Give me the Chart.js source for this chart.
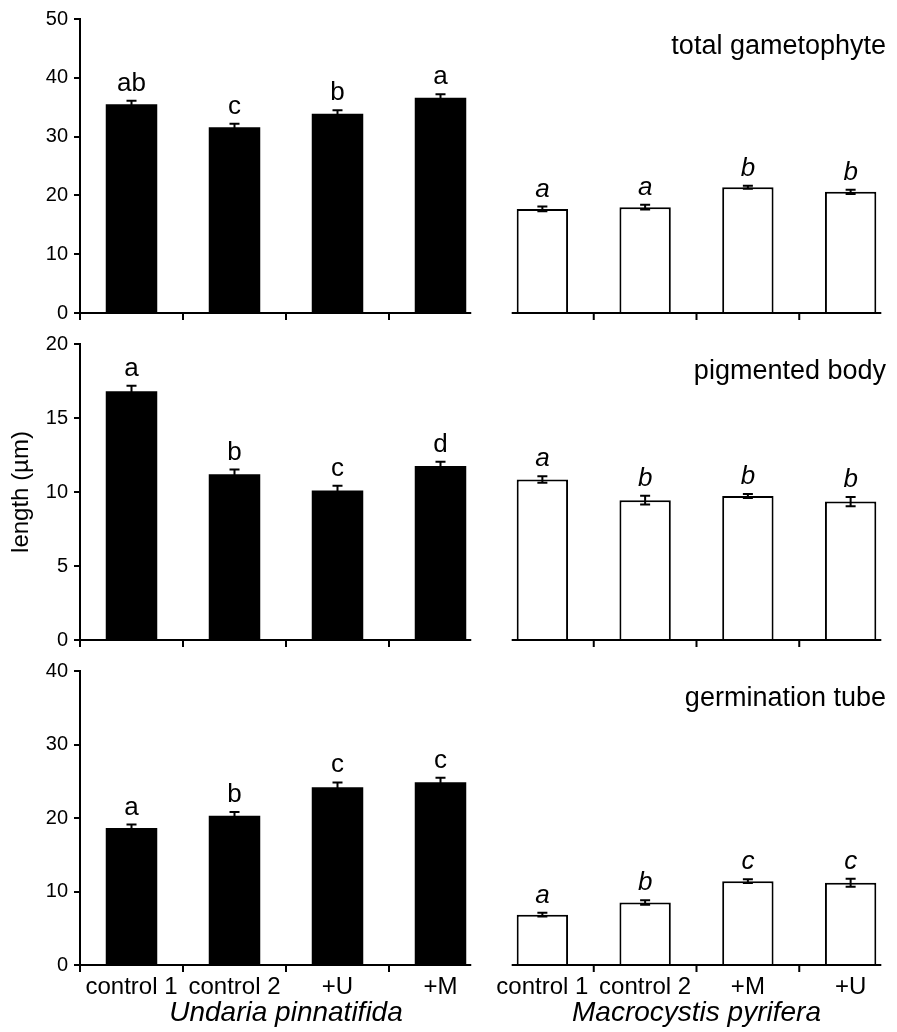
<!DOCTYPE html>
<html>
<head>
<meta charset="utf-8">
<script src="https://cdn.jsdelivr.net/npm/chart.js@4.4.1/dist/chart.umd.min.js"></script>
<style>
  html, body { margin: 0; padding: 0; background: #fff; overflow: hidden; }
  body { width: 897px; height: 1032px; position: relative; }
  canvas { position: absolute; }
</style>
</head>
<body>
<canvas id="totalU"></canvas>
<canvas id="totalM"></canvas>
<canvas id="pigU"></canvas>
<canvas id="pigM"></canvas>
<canvas id="germU"></canvas>
<canvas id="germM"></canvas>
<script>
  // categories
  const undariaLabels = ['control 1', 'control 2', '+U', '+M'];
  const macroLabels = ['control 1', 'control 2', '+M', '+U'];

  // total gametophyte
  const totalUndaria = [35.5, 31.6, 33.9, 36.6];
  const totalUndariaErr = [0.6, 0.6, 0.6, 0.6];
  const totalUndariaLetters = ['ab', 'c', 'b', 'a'];
  const totalMacro = [17.7, 18.0, 21.4, 20.6];
  const totalMacroErr = [0.4, 0.4, 0.25, 0.35];
  const totalMacroLetters = ['a', 'a', 'b', 'b'];

  // pigmented body
  const pigUndaria = [16.8, 11.2, 10.1, 11.75];
  const pigUndariaErr = [0.38, 0.32, 0.32, 0.3];
  const pigUndariaLetters = ['a', 'b', 'c', 'd'];
  const pigMacro = [10.85, 9.45, 9.73, 9.35];
  const pigMacroErr = [0.22, 0.29, 0.14, 0.31];
  const pigMacroLetters = ['a', 'b', 'b', 'b'];

  // germination tube
  const germUndaria = [18.65, 20.3, 24.2, 24.85];
  const germUndariaErr = [0.46, 0.5, 0.64, 0.64];
  const germUndariaLetters = ['a', 'b', 'c', 'c'];
  const germMacro = [6.85, 8.5, 11.4, 11.2];
  const germMacroErr = [0.25, 0.3, 0.25, 0.54];
  const germMacroLetters = ['a', 'b', 'c', 'c'];

  const FAMILY = '"Liberation Sans", Arial, Helvetica, sans-serif';
  Chart.defaults.font.family = FAMILY;
  Chart.defaults.color = '#000';

  // axis line, ticks between categories, error bars, letters and panel title
  const panelPlugin = {
    id: 'panel',
    afterDatasetsDraw(chart, args, o) {
      const { ctx, chartArea } = chart;
      const yScale = chart.scales.y;
      const bars = chart.getDatasetMeta(0).data;
      const y = chartArea.bottom;
      const first = bars[0], last = bars[bars.length - 1];
      const x0 = o.left ? chartArea.left - 1 : first.x - first.width / 2 - 5;
      const x1 = last.x + last.width / 2 + 5;

      ctx.save();
      ctx.strokeStyle = '#000';
      ctx.lineWidth = 2;
      ctx.beginPath();
      ctx.moveTo(x0, y);
      ctx.lineTo(x1, y);
      for (let i = 1; i < bars.length; i++) {
        const bx = (bars[i - 1].x + bars[i].x) / 2;
        ctx.moveTo(bx, y);
        ctx.lineTo(bx, y + 7);
      }
      if (o.left) {
        ctx.moveTo(chartArea.left, y);
        ctx.lineTo(chartArea.left, y + 7);
      }
      ctx.stroke();

      // error bars
      const values = chart.data.datasets[0].data;
      bars.forEach((bar, i) => {
        const top = yScale.getPixelForValue(values[i] + o.errors[i]);
        const bot = yScale.getPixelForValue(values[i] - o.errors[i]);
        ctx.beginPath();
        ctx.moveTo(bar.x, top);
        ctx.lineTo(bar.x, bot);
        ctx.moveTo(bar.x - 5, top);
        ctx.lineTo(bar.x + 5, top);
        ctx.moveTo(bar.x - 5, bot);
        ctx.lineTo(bar.x + 5, bot);
        ctx.stroke();

        ctx.fillStyle = '#000';
        ctx.font = (o.italic ? 'italic ' : '') + '26px ' + FAMILY;
        ctx.textAlign = 'center';
        ctx.textBaseline = 'alphabetic';
        ctx.fillText(o.letters[i], bar.x, top - 10);
      });

      if (o.title) {
        ctx.font = '27px ' + FAMILY;
        ctx.textAlign = 'right';
        ctx.textBaseline = 'alphabetic';
        ctx.fillText(o.title, chartArea.right - 16, chartArea.top + 35);
      }
      ctx.restore();
    }
  };

  const rows = [
    { top: 0, height: 325, padTop: 19, xHeight: 12, yMax: 50, yStep: 10 },
    { top: 325, height: 325, padTop: 19, xHeight: 10, yMax: 20, yStep: 5 },
    { top: 650, height: 382, padTop: 21, xHeight: 67, yMax: 40, yStep: 10 }
  ];

  function makePanel(id, row, left, labels, values, errors, letters, extra) {
    const r = rows[row];
    const bottomRow = row === 2;
    const canvas = document.getElementById(id);
    const width = left ? 500 : 411;
    canvas.width = width;
    canvas.height = r.height;
    canvas.style.left = (left ? 0 : 491) + 'px';
    canvas.style.top = r.top + 'px';

    new Chart(canvas.getContext('2d'), {
      type: 'bar',
      data: {
        labels: labels,
        datasets: [{
          data: values,
          backgroundColor: left ? '#000' : '#fff',
          borderColor: '#000',
          borderWidth: left ? 0 : 2,
          barPercentage: 0.5,
          categoryPercentage: 1.0
        }]
      },
      options: {
        responsive: false,
        animation: false,
        layout: { padding: { top: r.padTop, right: left ? 8 : 0, bottom: 0, left: 0 } },
        plugins: {
          legend: { display: false },
          tooltip: { enabled: false },
          panel: {
            left: left,
            italic: !left,
            errors: errors,
            letters: letters,
            title: extra.title
          }
        },
        scales: {
          x: {
            grid: { display: false, drawTicks: false },
            border: { display: false },
            ticks: {
              display: bottomRow,
              autoSkip: false,
              maxRotation: 0,
              padding: 8,
              font: { size: 24 }
            },
            title: {
              display: bottomRow,
              text: extra.species,
              font: { size: 28, style: 'italic' },
              padding: { top: 0, bottom: 2 }
            },
            afterFit: s => {
              s.height = r.xHeight;
              s.paddingLeft = 0;
              s.paddingRight = 0;
            }
          },
          y: {
            display: left,
            min: 0,
            max: r.yMax,
            ticks: { stepSize: r.yStep, padding: 6, font: { size: 20 } },
            grid: { drawOnChartArea: false, tickLength: 6, color: '#000', lineWidth: 2 },
            border: { display: true, color: '#000', width: 2 },
            title: {
              display: !!extra.yTitle,
              text: extra.yTitle,
              font: { size: 24 },
              padding: { top: 7, bottom: 0 }
            },
            afterFit: s => {
              s.width = left ? 80 : 0;
              s.paddingTop = 0;
              s.paddingBottom = 0;
            }
          }
        }
      },
      plugins: [panelPlugin]
    });
  }

  makePanel('totalU', 0, true, undariaLabels, totalUndaria, totalUndariaErr, totalUndariaLetters, {});
  makePanel('totalM', 0, false, macroLabels, totalMacro, totalMacroErr, totalMacroLetters, { title: 'total gametophyte' });
  makePanel('pigU', 1, true, undariaLabels, pigUndaria, pigUndariaErr, pigUndariaLetters, { yTitle: 'length (µm)' });
  makePanel('pigM', 1, false, macroLabels, pigMacro, pigMacroErr, pigMacroLetters, { title: 'pigmented body' });
  makePanel('germU', 2, true, undariaLabels, germUndaria, germUndariaErr, germUndariaLetters, { species: 'Undaria pinnatifida' });
  makePanel('germM', 2, false, macroLabels, germMacro, germMacroErr, germMacroLetters, { title: 'germination tube', species: 'Macrocystis pyrifera' });
</script>
</body>
</html>
